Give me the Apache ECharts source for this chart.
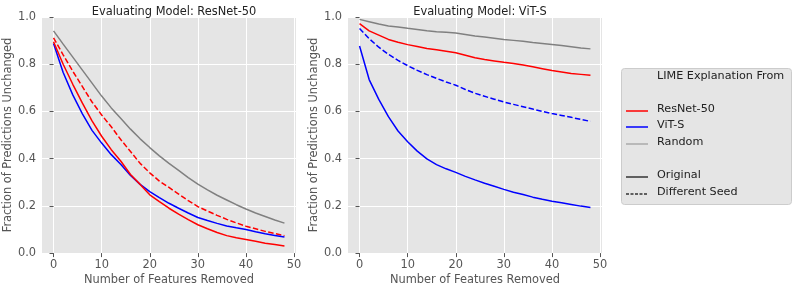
<!DOCTYPE html>
<html><head><meta charset="utf-8">
<script src="https://cdn.jsdelivr.net/npm/echarts@6/dist/echarts.min.js"></script>
<style>html,body{margin:0;padding:0;background:#fff}#c{width:795px;height:291px}</style>
</head><body><div id="c"></div>
<script>
const xValues = [0,2,4,6,8,10,12,14,16,18,20,22,24,26,28,30,32,34,36,38,40,42,44,46,48];
const xTicks = [0,10,20,30,40,50];
const yTicks = [0,0.2,0.4,0.6,0.8,1.0];
const panelTitles = ['Evaluating Model: ResNet-50','Evaluating Model: ViT-S'];

// Left panel (evaluating ResNet-50)
const resnetEval_resnet = [0.895,0.80,0.715,0.635,0.56,0.495,0.438,0.389,0.333,0.291,0.247,0.218,0.19,0.165,0.142,0.12,0.103,0.087,0.074,0.065,0.058,0.05,0.042,0.036,0.03];
const resnetEval_vit = [0.888,0.765,0.67,0.59,0.52,0.466,0.417,0.375,0.329,0.291,0.26,0.235,0.211,0.19,0.17,0.151,0.138,0.126,0.115,0.107,0.1,0.09,0.082,0.075,0.068];
const resnetEval_random = [0.941,0.885,0.83,0.775,0.72,0.665,0.615,0.57,0.525,0.484,0.447,0.412,0.38,0.35,0.32,0.292,0.268,0.245,0.225,0.205,0.187,0.17,0.155,0.14,0.127];
const resnetEval_resnetSeed = [0.912,0.84,0.77,0.705,0.64,0.585,0.535,0.48,0.43,0.38,0.34,0.305,0.278,0.25,0.222,0.197,0.178,0.16,0.143,0.128,0.114,0.103,0.092,0.083,0.074];

// Right panel (evaluating ViT-S)
const vitEval_resnet = [0.972,0.941,0.923,0.905,0.893,0.883,0.875,0.867,0.861,0.855,0.849,0.838,0.827,0.82,0.814,0.808,0.803,0.797,0.789,0.781,0.773,0.767,0.761,0.757,0.753];
const vitEval_vit = [0.877,0.735,0.651,0.578,0.517,0.472,0.432,0.399,0.375,0.357,0.342,0.325,0.31,0.296,0.283,0.27,0.258,0.248,0.237,0.228,0.22,0.213,0.206,0.199,0.193];
const vitEval_random = [0.99,0.98,0.97,0.962,0.958,0.952,0.947,0.942,0.938,0.935,0.932,0.926,0.92,0.915,0.91,0.905,0.901,0.897,0.892,0.888,0.884,0.879,0.874,0.869,0.865];
const vitEval_vitSeed = [0.951,0.908,0.872,0.842,0.816,0.794,0.774,0.756,0.74,0.725,0.711,0.693,0.677,0.664,0.652,0.64,0.63,0.62,0.61,0.60,0.591,0.583,0.575,0.566,0.558];

const legendTitle = 'LIME Explanation From';
const legendModels = ['ResNet-50','ViT-S','Random'];
const legendStyles = ['Original','Different Seed'];

const RED = '#FF0000', BLUE = '#0000FF', GRAY = '#808080';
const FONT = 'DejaVu Sans';
const FS = 11.4;
const pair = arr => xValues.map((x,i)=>[x,arr[i]]);

function mkGrid(left){ return {left:left, width:254, top:17, height:239, show:true, backgroundColor:'#E5E5E5', borderWidth:0, containLabel:false}; }
function mkX(idx){ return {gridIndex:idx, type:'value', min:-2.4, max:50.4,
  name:'Number of Features Removed', nameLocation:'middle', nameGap:18,
  nameTextStyle:{color:'#555', fontSize:FS, fontFamily:FONT},
  axisLine:{show:false},
  axisTick:{show:true, length:4, lineStyle:{color:'#555'}, customValues:xTicks},
  axisLabel:{color:'#555', fontSize:FS, fontFamily:FONT, margin:6, customValues:xTicks},
  splitLine:{show:true, lineStyle:{color:'#fff', width:1}}}; }
function mkY(idx){ return {gridIndex:idx, type:'value', min:0, max:1, interval:0.2,
  name:'Fraction of Predictions Unchanged', nameLocation:'middle', nameGap:25,
  nameTextStyle:{color:'#555', fontSize:FS, fontFamily:FONT},
  axisLine:{show:false},
  axisTick:{show:true, length:4, lineStyle:{color:'#555'}},
  axisLabel:{color:'#555', fontSize:FS, fontFamily:FONT, margin:6, formatter:v=>v.toFixed(1)},
  splitLine:{show:true, lineStyle:{color:'#fff', width:1}}}; }
function mkLine(idx, arr, color, dashed){ return {type:'line', xAxisIndex:idx, yAxisIndex:idx, data:pair(arr),
  showSymbol:false, symbol:'none', animation:false, z:3,
  lineStyle:{color:color, width:1.5, type: dashed?[5.5,2.4]:'solid'}}; }

// legend graphic
const lx=621, ly=68;
const LF = '11.2px "DejaVu Sans"';
const g = [{type:'rect', shape:{x:lx+0.5,y:ly+0.5,width:170,height:136,r:3}, style:{fill:'#E5E5E5', stroke:'#CCCCCC', lineWidth:1}}];
g.push({type:'text', left:657, top:71, style:{text:legendTitle, fill:'#222', font:LF}});
const rowY = [111,127,144,177,194];
const rowColors = [RED,BLUE,'#aaaaaa','#333','#333'];
const rowTexts = legendModels.concat(legendStyles);
rowTexts.forEach((t,i)=>{
  g.push({type:'line', shape:{x1:626,y1:rowY[i],x2:648,y2:rowY[i]}, style:{stroke:rowColors[i], lineWidth:1.5, lineDash: i===4?[3,1.5]:null}});
  g.push({type:'text', left:657, top:rowY[i]-7, style:{text:t, fill:'#222', font:LF}});
});

const chart = echarts.init(document.getElementById('c'), null, {renderer:'canvas'});
chart.setOption({
  animation:false,
  title:[
    {text:panelTitles[0], left:169, top:2, textAlign:'center', textStyle:{fontSize:FS, fontWeight:'normal', color:'#222', fontFamily:FONT}},
    {text:panelTitles[1], left:475, top:2, textAlign:'center', textStyle:{fontSize:FS, fontWeight:'normal', color:'#222', fontFamily:FONT}}
  ],
  grid:[mkGrid(42), mkGrid(348)],
  xAxis:[mkX(0), mkX(1)],
  yAxis:[mkY(0), mkY(1)],
  series:[
    mkLine(0, resnetEval_random, GRAY, false),
    mkLine(0, resnetEval_resnetSeed, RED, true),
    mkLine(0, resnetEval_vit, BLUE, false),
    mkLine(0, resnetEval_resnet, RED, false),
    mkLine(1, vitEval_random, GRAY, false),
    mkLine(1, vitEval_resnet, RED, false),
    mkLine(1, vitEval_vitSeed, BLUE, true),
    mkLine(1, vitEval_vit, BLUE, false)
  ],
  graphic:g
});
</script></body></html>
